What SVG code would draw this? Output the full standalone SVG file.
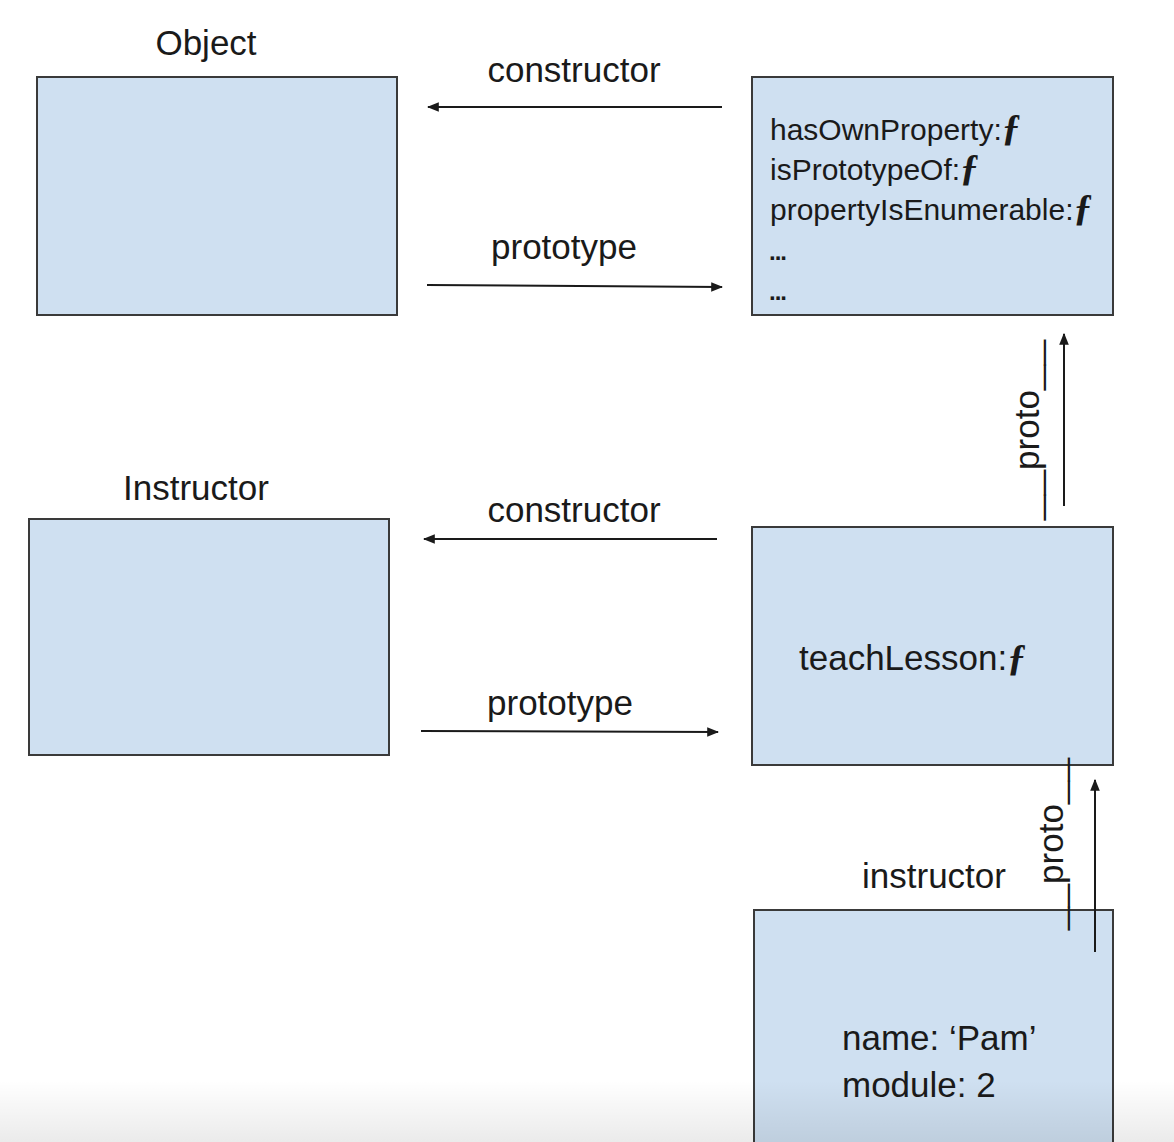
<svg xmlns="http://www.w3.org/2000/svg" width="1174" height="1142" viewBox="0 0 1174 1142">
<style>
.box{fill:#cfe0f1;stroke:#3a3a3a;stroke-width:2}
.t{font-family:"Liberation Sans",Arial,sans-serif;font-size:35px;fill:#1a1a1a}
.s{font-family:"Liberation Sans",Arial,sans-serif;font-size:30px;fill:#1a1a1a}
.f{font-family:"Liberation Serif","Times New Roman",serif;font-style:italic;font-weight:bold;font-size:38px}
.dots{font-family:"Liberation Sans",Arial,sans-serif;font-size:24px;font-weight:bold;fill:#1a1a1a;letter-spacing:-1px}
.ln{stroke:#1a1a1a;stroke-width:2;fill:none}
</style>
<defs>
<marker id="ah" viewBox="0 0 10 10" refX="9" refY="5" markerWidth="6" markerHeight="6" markerUnits="strokeWidth" orient="auto">
<path d="M0,1 L10,5 L0,9 Z" fill="#1a1a1a"/>
</marker>
<linearGradient id="shade" x1="0" y1="0" x2="0" y2="1">
<stop offset="0" stop-color="#000" stop-opacity="0"/>
<stop offset="1" stop-color="#000" stop-opacity="0.08"/>
</linearGradient>
</defs>
<rect width="1174" height="1142" fill="#fff"/>

<g id="object">
<rect class="box" x="37" y="77" width="360" height="238"/>
<text class="t" x="206" y="55" text-anchor="middle">Object</text>
</g>

<g id="object-prototype">
<rect class="box" x="752" y="77" width="361" height="238"/>
<text class="s" x="770" y="140">hasOwnProperty:<tspan class="f">ƒ</tspan></text>
<text class="s" x="770" y="180">isPrototypeOf:<tspan class="f">ƒ</tspan></text>
<text class="s" x="770" y="220">propertyIsEnumerable:<tspan class="f">ƒ</tspan></text>
<text class="dots" x="769" y="260">...</text>
<text class="dots" x="769" y="300">...</text>
</g>

<g id="instructor-fn">
<rect class="box" x="29" y="519" width="360" height="236"/>
<text class="t" x="196" y="500" text-anchor="middle">Instructor</text>
</g>

<g id="instructor-prototype">
<rect class="box" x="752" y="527" width="361" height="238"/>
<text class="t" x="799" y="670">teachLesson:<tspan class="f" font-size="42">ƒ</tspan></text>
</g>

<g id="instructor-obj">
<rect class="box" x="754" y="910" width="359" height="240"/>
<text class="t" x="934" y="888" text-anchor="middle">instructor</text>
<text class="t" x="842" y="1050">name: ‘Pam’</text>
<text class="t" x="842" y="1097">module: 2</text>
</g>

<g id="connectors">
<line class="ln" x1="722" y1="107" x2="428" y2="107" marker-end="url(#ah)"/>
<text class="t" x="574" y="82" text-anchor="middle">constructor</text>
<line class="ln" x1="427" y1="285" x2="722" y2="287" marker-end="url(#ah)"/>
<text class="t" x="564" y="259" text-anchor="middle">prototype</text>

<line class="ln" x1="717" y1="539" x2="424" y2="539" marker-end="url(#ah)"/>
<text class="t" x="574" y="522" text-anchor="middle">constructor</text>
<line class="ln" x1="421" y1="731" x2="718" y2="732" marker-end="url(#ah)"/>
<text class="t" x="560" y="715" text-anchor="middle">prototype</text>

<line class="ln" x1="1064" y1="506" x2="1064" y2="334" marker-end="url(#ah)"/>
<text class="t" transform="translate(1039,430) rotate(-90)" text-anchor="middle"><tspan textLength="50" lengthAdjust="spacingAndGlyphs">__</tspan>proto<tspan textLength="50" lengthAdjust="spacingAndGlyphs">__</tspan></text>

<line class="ln" x1="1095" y1="952" x2="1095" y2="780" marker-end="url(#ah)"/>
<text class="t" transform="translate(1063,844) rotate(-90)" text-anchor="middle"><tspan textLength="46" lengthAdjust="spacingAndGlyphs">__</tspan>proto<tspan textLength="46" lengthAdjust="spacingAndGlyphs">__</tspan></text>
</g>

<rect x="0" y="1080" width="1174" height="62" fill="url(#shade)"/>
</svg>
